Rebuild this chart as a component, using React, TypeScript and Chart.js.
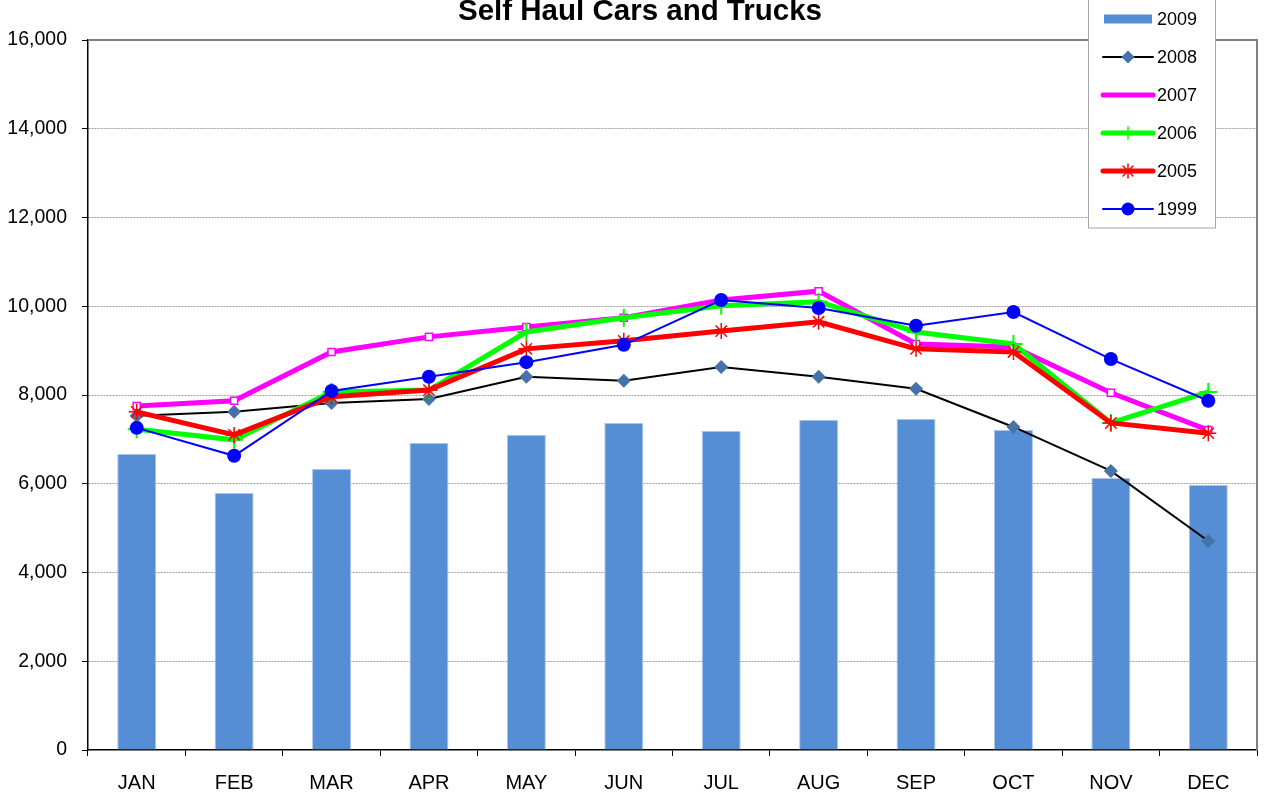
import React, { useEffect, useRef } from 'react';
import { Chart, registerables } from 'chart.js';

Chart.register(...registerables);

const MONTHS = ['JAN', 'FEB', 'MAR', 'APR', 'MAY', 'JUN', 'JUL', 'AUG', 'SEP', 'OCT', 'NOV', 'DEC'];
const Y_TICKS = [0, 2000, 4000, 6000, 8000, 10000, 12000, 14000, 16000];
const TITLE = 'Self Haul Cars and Trucks';

const S2009 = [6670, 5790, 6330, 6920, 7100, 7370, 7190, 7440, 7460, 7210, 6130, 5970];
const S2008 = [7530, 7620, 7820, 7910, 8410, 8320, 8630, 8410, 8140, 7280, 6290, 4710];
const S2007 = [7750, 7870, 8970, 9310, 9530, 9740, 10140, 10340, 9150, 9080, 8050, 7210];
const S2006 = [7230, 6990, 8070, 8110, 9420, 9740, 10010, 10100, 9420, 9150, 7370, 8070];
const S2005 = [7620, 7100, 7960, 8110, 9040, 9220, 9440, 9650, 9040, 8970, 7370, 7140];
const S1999 = [7260, 6630, 8090, 8410, 8740, 9130, 10140, 9960, 9560, 9870, 8810, 7870];

const LEGEND_LABELS = ['2009', '2008', '2007', '2006', '2005', '1999'];

const FONT = '"Liberation Sans", Arial, Helvetica, sans-serif';
const BAR_COLOR = '#558ed5';
const DIAMOND = '#4672a8';

function drawMarker(ctx: CanvasRenderingContext2D, kind: string, x: number, y: number, color: string) {
  ctx.save();
  ctx.fillStyle = color;
  ctx.strokeStyle = color;
  ctx.beginPath();
  if (kind === 'diamond') {
    const r = 6.5;
    ctx.moveTo(x, y - r); ctx.lineTo(x + r, y); ctx.lineTo(x, y + r); ctx.lineTo(x - r, y); ctx.closePath();
    ctx.fill();
  } else if (kind === 'circle') {
    ctx.arc(x, y, 6.5, 0, Math.PI * 2);
    ctx.fill();
  } else if (kind === 'star') {
    ctx.lineWidth = 1.5;
    const r = 7;
    ctx.moveTo(x, y - r); ctx.lineTo(x, y + r);
    ctx.moveTo(x - r, y); ctx.lineTo(x + r, y);
    const d = r * Math.SQRT1_2;
    ctx.moveTo(x - d, y - d); ctx.lineTo(x + d, y + d);
    ctx.moveTo(x - d, y + d); ctx.lineTo(x + d, y - d);
    ctx.stroke();
  }
  ctx.restore();
}

const decorPlugin = {
  id: 'decor',
  beforeDatasetsDraw(chart: any) {
    const { ctx, chartArea } = chart;
    ctx.save();
    ctx.strokeStyle = '#808080';
    ctx.lineWidth = 2;
    ctx.beginPath();
    ctx.moveTo(chartArea.left, chartArea.top);
    ctx.lineTo(chartArea.right, chartArea.top);
    ctx.lineTo(chartArea.right, chartArea.bottom);
    ctx.stroke();
    ctx.restore();
  },
  afterDraw(chart: any) {
    const { ctx } = chart;
    ctx.save();
    // title
    ctx.fillStyle = '#000';
    ctx.font = `bold 29.5px ${FONT}`;
    ctx.textAlign = 'center';
    ctx.textBaseline = 'alphabetic';
    ctx.fillText(TITLE, 640, 20);

    // legend box
    ctx.fillStyle = '#ffffff';
    ctx.fillRect(1088, -2, 128, 230);
    ctx.strokeStyle = '#a6a6a6';
    ctx.lineWidth = 1;
    ctx.strokeRect(1088.5, -2, 127, 230);

    const x0 = 1103;
    const x1 = 1153;
    const xm = 1128;
    const rows = [19, 57, 95, 133, 171, 209];
    ctx.lineCap = 'round';
    // 2009
    ctx.fillStyle = BAR_COLOR;
    ctx.fillRect(1104, rows[0] - 4.5, 48, 9);
    // 2008
    ctx.strokeStyle = '#000';
    ctx.lineWidth = 2;
    ctx.beginPath(); ctx.moveTo(x0, rows[1]); ctx.lineTo(x1, rows[1]); ctx.stroke();
    drawMarker(ctx, 'diamond', xm, rows[1], DIAMOND);
    // 2007
    ctx.strokeStyle = '#ff00ff';
    ctx.lineWidth = 5;
    ctx.beginPath(); ctx.moveTo(x0, rows[2]); ctx.lineTo(x1, rows[2]); ctx.stroke();
    // 2006
    ctx.strokeStyle = '#00ff00';
    ctx.beginPath(); ctx.moveTo(x0, rows[3]); ctx.lineTo(x1, rows[3]); ctx.stroke();
    ctx.lineWidth = 1.5;
    ctx.beginPath(); ctx.moveTo(xm, rows[3] - 6); ctx.lineTo(xm, rows[3] + 6); ctx.stroke();
    // 2005
    ctx.strokeStyle = '#ff0000';
    ctx.lineWidth = 5;
    ctx.beginPath(); ctx.moveTo(x0, rows[4]); ctx.lineTo(x1, rows[4]); ctx.stroke();
    drawMarker(ctx, 'star', xm, rows[4], '#ff0000');
    // 1999
    ctx.strokeStyle = '#0000ff';
    ctx.lineWidth = 2;
    ctx.beginPath(); ctx.moveTo(x0, rows[5]); ctx.lineTo(x1, rows[5]); ctx.stroke();
    drawMarker(ctx, 'circle', xm, rows[5], '#0000ff');

    ctx.fillStyle = '#000';
    ctx.font = `18px ${FONT}`;
    ctx.textAlign = 'left';
    ctx.textBaseline = 'middle';
    LEGEND_LABELS.forEach((t, i) => ctx.fillText(t, 1157, rows[i] + 1));
    ctx.restore();
  },
};

export default function App() {
  const ref = useRef<HTMLCanvasElement>(null);

  useEffect(() => {
    document.body.style.margin = '0';
    const canvas = ref.current;
    if (!canvas) return;
    const chart = new Chart(canvas, {
      type: 'bar',
      data: {
        labels: MONTHS,
        datasets: [
          { type: 'bar', label: '2009', data: S2009, backgroundColor: BAR_COLOR, borderColor: '#a9c5ea', borderWidth: 1, barPercentage: 0.4, categoryPercentage: 1.0, order: 10 },
          { type: 'line', label: '2008', data: S2008, borderColor: '#000000', borderWidth: 2, pointStyle: 'rectRot', pointRadius: 7, pointBackgroundColor: DIAMOND, pointBorderColor: DIAMOND, pointBorderWidth: 0, tension: 0, order: 5 },
          { type: 'line', label: '2007', data: S2007, borderColor: '#ff00ff', borderWidth: 5, pointStyle: 'rect', pointRadius: 5, pointBackgroundColor: '#ffffff', pointBorderColor: '#ff00ff', pointBorderWidth: 1.5, tension: 0, order: 4 },
          { type: 'line', label: '2006', data: S2006, borderColor: '#00ff00', borderWidth: 5, pointStyle: 'cross', pointRadius: 9, pointBorderColor: '#00ff00', pointBorderWidth: 2, tension: 0, order: 3 },
          { type: 'line', label: '2005', data: S2005, borderColor: '#ff0000', borderWidth: 5, pointStyle: 'star', pointRadius: 8, pointBorderColor: '#ff0000', pointBorderWidth: 1.5, tension: 0, order: 2 },
          { type: 'line', label: '1999', data: S1999, borderColor: '#0000ff', borderWidth: 2, pointStyle: 'circle', pointRadius: 7, pointBackgroundColor: '#0000ff', pointBorderColor: '#0000ff', pointBorderWidth: 0, tension: 0, order: 1 },
        ] as any,
      },
      options: {
        responsive: false,
        maintainAspectRatio: false,
        devicePixelRatio: 1,
        animation: false,
        layout: { autoPadding: false, padding: { left: 8, right: 7, top: 40, bottom: 0 } },
        plugins: { legend: { display: false }, title: { display: false }, tooltip: { enabled: false } },
        scales: {
          x: {
            offset: true,
            grid: { offset: true, drawOnChartArea: false, drawTicks: true, tickLength: 6, tickColor: '#000', tickWidth: 1 },
            border: { display: true, color: '#000', width: 1.5 },
            ticks: { color: '#000', font: { family: FONT, size: 20 }, padding: 15, maxRotation: 0, autoSkip: false },
            afterFit: (scale: any) => { scale.height = 50; scale.paddingLeft = 0; scale.paddingRight = 0; },
          },
          y: {
            min: 0,
            max: 16000,
            afterBuildTicks: (scale: any) => { scale.ticks = Y_TICKS.map((v) => ({ value: v })); },
            grid: {
              color: (c: any) => (c.tick && (c.tick.value === 0 || c.tick.value === 16000) ? 'rgba(0,0,0,0)' : '#a0a0a0'),
              lineWidth: 1, drawTicks: true, tickLength: 6, tickColor: '#000', tickWidth: 1, tickBorderDash: [],
            },
            border: { display: true, color: '#000', width: 1.5, dash: [2, 1] },
            ticks: { color: '#000', font: { family: FONT, size: 19.5 }, padding: 15, callback: (v: any) => Number(v).toLocaleString('en-US') },
            afterFit: (scale: any) => { scale.width = 80; scale.paddingTop = 0; scale.paddingBottom = 0; },
          },
        },
      },
      plugins: [decorPlugin],
    });
    return () => chart.destroy();
  }, []);

  return (
    <div style={{ position: 'fixed', left: 0, top: 0, width: 1264, height: 800, background: '#ffffff' }}>
      <canvas ref={ref} width={1264} height={800} style={{ width: 1264, height: 800, display: 'block' }} />
    </div>
  );
}
